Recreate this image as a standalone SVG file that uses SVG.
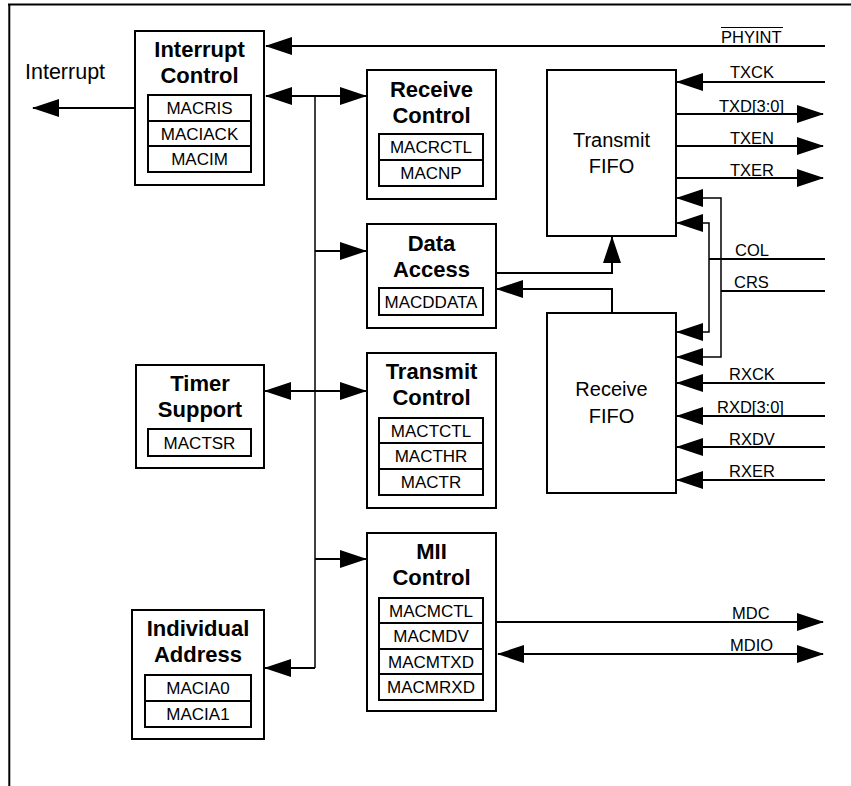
<svg xmlns="http://www.w3.org/2000/svg" width="851" height="786" viewBox="0 0 851 786">
<style>
.box{fill:#fff;stroke:#000;stroke-width:2}
.reg{fill:none;stroke:#000;stroke-width:2}
.t{font-family:"Liberation Sans",Arial,sans-serif;font-weight:bold;font-size:22px;text-anchor:middle;fill:#000}
.r{font-family:"Liberation Sans",Arial,sans-serif;font-size:17px;text-anchor:middle;fill:#000}
.f{font-family:"Liberation Sans",Arial,sans-serif;font-size:20px;text-anchor:middle;fill:#000}
.s{font-family:"Liberation Sans",Arial,sans-serif;font-size:16.5px;fill:#000}
.big{font-family:"Liberation Sans",Arial,sans-serif;font-size:21.5px;fill:#000}
.c{fill:none;stroke:#000;stroke-width:2}
.thin{fill:none;stroke:#000;stroke-width:1.5}
.e{marker-end:url(#ah)}
.b{marker-start:url(#ah);marker-end:url(#ah)}
</style>
<defs>
<marker id="ah" viewBox="0 0 27 18" refX="26" refY="9" markerWidth="27" markerHeight="18" markerUnits="userSpaceOnUse" orient="auto-start-reverse">
<path d="M0,0 L27,9 L0,18 z" fill="#000"/>
</marker>
</defs>
<rect width="851" height="786" fill="#fff"/>
<g id="frame">
<line x1="8" y1="4.5" x2="851" y2="4.5" stroke="#000" stroke-width="2"/>
<line x1="9.3" y1="4" x2="9.3" y2="786" stroke="#000" stroke-width="2"/>
</g>

<g id="connectors">
<line class="c e" x1="135" y1="108" x2="33" y2="108"/>
<line class="c e" x1="825" y1="46" x2="266" y2="46"/>
<line class="thin" x1="315" y1="96" x2="315" y2="668"/>
<line class="c b" x1="266" y1="96" x2="366" y2="96"/>
<line class="c e" x1="315" y1="251" x2="366" y2="251"/>
<line class="c b" x1="265" y1="391" x2="366" y2="391"/>
<line class="c e" x1="315" y1="559" x2="366" y2="559"/>
<line class="c e" x1="315" y1="668" x2="265" y2="668"/>
<polyline class="c e" points="496,273 612,273 612,237"/>
<polyline class="c e" points="612,313 612,289 497,289"/>
<line class="c e" x1="825" y1="82" x2="677" y2="82"/>
<line class="c e" x1="676" y1="114" x2="823" y2="114"/>
<line class="c e" x1="676" y1="146" x2="823" y2="146"/>
<line class="c e" x1="676" y1="178" x2="823" y2="178"/>
<path class="thin b" d="M677,198 H721 V357 H677"/>
<path class="thin b" d="M677,223 H709 V332 H677"/>
<line class="c" x1="709" y1="259" x2="825" y2="259"/>
<line class="c" x1="721" y1="291" x2="825" y2="291"/>
<line class="c e" x1="825" y1="383" x2="677" y2="383"/>
<line class="c e" x1="825" y1="416" x2="677" y2="416"/>
<line class="c e" x1="825" y1="447" x2="677" y2="447"/>
<line class="c e" x1="825" y1="480" x2="677" y2="480"/>
<line class="c e" x1="496" y1="622" x2="823" y2="622"/>
<line class="c b" x1="498" y1="654" x2="823" y2="654"/>
</g>

<g id="labels">
<text class="big" x="25" y="79">Interrupt</text>
<text class="s" x="721" y="43">PHYINT</text>
<line x1="721" y1="27.5" x2="783" y2="27.5" stroke="#000" stroke-width="1.2"/>
<text class="s" x="730" y="78">TXCK</text>
<text class="s" x="719" y="112">TXD[3:0]</text>
<text class="s" x="730" y="144">TXEN</text>
<text class="s" x="730" y="176">TXER</text>
<text class="s" x="735" y="256">COL</text>
<text class="s" x="734" y="288">CRS</text>
<text class="s" x="729" y="380">RXCK</text>
<text class="s" x="717" y="413">RXD[3:0]</text>
<text class="s" x="729" y="445">RXDV</text>
<text class="s" x="729" y="477">RXER</text>
<text class="s" x="732" y="619">MDC</text>
<text class="s" x="730" y="651">MDIO</text>
</g>

<g id="interrupt-control">
<rect class="box" x="135" y="31" width="129" height="154"/>
<text class="t" x="199.5" y="57">Interrupt</text>
<text class="t" x="199.5" y="83">Control</text>
<rect class="reg" x="148" y="95" width="103" height="77"/>
<line class="reg" x1="148" y1="121" x2="251" y2="121"/>
<line class="reg" x1="148" y1="146" x2="251" y2="146"/>
<text class="r" x="199.5" y="114">MACRIS</text>
<text class="r" x="199.5" y="140">MACIACK</text>
<text class="r" x="199.5" y="165">MACIM</text>
</g>

<g id="receive-control">
<rect class="box" x="367" y="70" width="129" height="129"/>
<text class="t" x="431.5" y="97">Receive</text>
<text class="t" x="431.5" y="123">Control</text>
<rect class="reg" x="379" y="134" width="104" height="52"/>
<line class="reg" x1="379" y1="160" x2="483" y2="160"/>
<text class="r" x="431" y="153">MACRCTL</text>
<text class="r" x="431" y="179">MACNP</text>
</g>

<g id="data-access">
<rect class="box" x="367" y="224" width="129" height="104"/>
<text class="t" x="431.5" y="251">Data</text>
<text class="t" x="431.5" y="277">Access</text>
<rect class="reg" x="379" y="288" width="104" height="27"/>
<text class="r" x="431" y="307.5">MACDDATA</text>
</g>

<g id="transmit-control">
<rect class="box" x="367" y="353" width="129" height="155"/>
<text class="t" x="431.5" y="379">Transmit</text>
<text class="t" x="431.5" y="405">Control</text>
<rect class="reg" x="379" y="418" width="104" height="77"/>
<line class="reg" x1="379" y1="443" x2="483" y2="443"/>
<line class="reg" x1="379" y1="469" x2="483" y2="469"/>
<text class="r" x="431" y="437">MACTCTL</text>
<text class="r" x="431" y="462">MACTHR</text>
<text class="r" x="431" y="488">MACTR</text>
</g>

<g id="mii-control">
<rect class="box" x="367" y="533" width="129" height="178"/>
<text class="t" x="431.5" y="559">MII</text>
<text class="t" x="431.5" y="585">Control</text>
<rect class="reg" x="379" y="598" width="104" height="102"/>
<line class="reg" x1="379" y1="623" x2="483" y2="623"/>
<line class="reg" x1="379" y1="649" x2="483" y2="649"/>
<line class="reg" x1="379" y1="674" x2="483" y2="674"/>
<text class="r" x="431" y="617">MACMCTL</text>
<text class="r" x="431" y="642">MACMDV</text>
<text class="r" x="431" y="668">MACMTXD</text>
<text class="r" x="431" y="693">MACMRXD</text>
</g>

<g id="timer-support">
<rect class="box" x="136" y="365" width="128" height="103"/>
<text class="t" x="200" y="391">Timer</text>
<text class="t" x="200" y="417">Support</text>
<rect class="reg" x="148" y="429" width="103" height="27"/>
<text class="r" x="199.5" y="448.5">MACTSR</text>
</g>

<g id="individual-address">
<rect class="box" x="132" y="610" width="132" height="129"/>
<text class="t" x="198" y="636">Individual</text>
<text class="t" x="198" y="662">Address</text>
<rect class="reg" x="145" y="675" width="106" height="52"/>
<line class="reg" x1="145" y1="701" x2="251" y2="701"/>
<text class="r" x="198" y="694">MACIA0</text>
<text class="r" x="198" y="720">MACIA1</text>
</g>

<g id="transmit-fifo">
<rect class="box" x="547" y="70" width="129" height="166"/>
<text class="f" x="611.5" y="147">Transmit</text>
<text class="f" x="611.5" y="173">FIFO</text>
</g>

<g id="receive-fifo">
<rect class="box" x="547" y="313" width="129" height="180"/>
<text class="f" x="611.5" y="396">Receive</text>
<text class="f" x="611.5" y="423">FIFO</text>
</g>
</svg>
